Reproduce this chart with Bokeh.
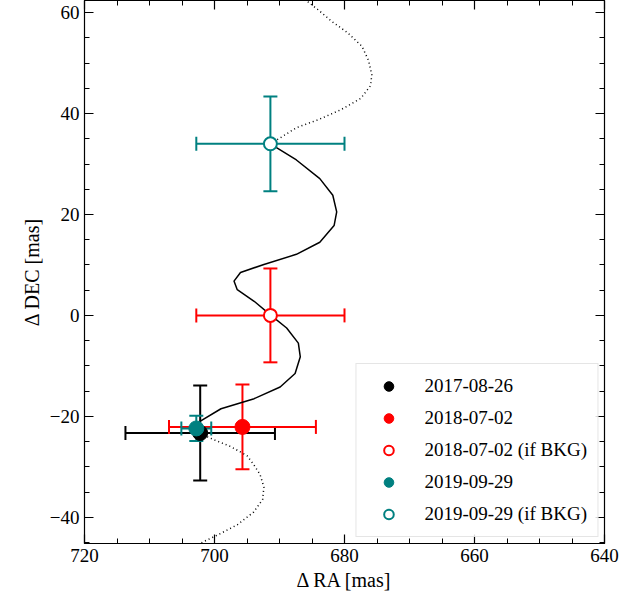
from bokeh.plotting import figure
from bokeh.models import Range1d, LinearAxis, Legend, LegendItem, Whisker, ColumnDataSource, FixedTicker
from bokeh.embed import file_html
from bokeh.resources import INLINE

# predicted track
solid_ra = [702.2, 702.5, 699.0, 693.9, 689.9, 687.6, 686.8, 687.1, 688.9, 691.4, 693.9, 696.5,
            697.0, 696.0, 692.4, 687.4, 683.8, 681.6, 681.2, 681.8, 683.8, 687.4, 690.9, 691.4]
solid_dec = [-23.4, -21.2, -18.5, -16.5, -14.2, -11.5, -8.2, -5.5, -2.5, 0.1, 2.8, 5.1,
             6.8, 8.5, 10.1, 12.1, 14.5, 17.8, 20.5, 23.8, 27.1, 30.8, 33.6, 34.0]
low_ra = [703.0, 701.8, 699.5, 696.5, 694.0, 692.6, 692.4, 693.0, 694.0, 695.0, 697.5, 700.0, 702.2]
low_dec = [-46.0, -44.9, -43.5, -41.5, -39.0, -36.5, -34.0, -31.5, -29.5, -27.8, -26.0, -24.7, -23.4]
high_ra = [691.4, 689.5, 687.4, 684.0, 680.5, 677.5, 676.0, 675.8, 676.3, 677.3, 679.5, 681.9, 684.0, 685.9, 687.0]
high_dec = [34.0, 35.5, 37.2, 38.8, 40.8, 43.0, 45.5, 47.7, 50.5, 53.3, 56.0, 58.2, 60.5, 62.4, 64.0]

labels = ["2017-08-26", "2018-07-02", "2018-07-02 (if BKG)", "2019-09-29", "2019-09-29 (if BKG)"]
ra = [702.2, 695.7, 691.4, 702.8, 691.4]
dec = [-23.3, -22.1, 0.0, -22.4, 34.0]
ra_err = [11.5, 11.3, 11.4, 2.3, 11.4]
dec_err = [9.4, 8.4, 9.3, 2.5, 9.4]
colors = ["black", "red", "red", "teal", "teal"]
filled = [True, True, False, True, False]

SERIF = "Liberation Serif"

p = figure(width=628, height=593, output_backend="svg", toolbar_location=None,
           x_range=Range1d(720, 640), y_range=Range1d(-45.2, 62.4),
           min_border_left=84, min_border_right=24, min_border_top=0, min_border_bottom=40)
p.grid.visible = False
p.outline_line_color = "black"
p.outline_line_width = 1.2

p.line(solid_ra, solid_dec, line_color="black", line_width=1.5)
p.line(low_ra, low_dec, line_color="black", line_width=1.5, line_dash="1 3")
p.line(high_ra, high_dec, line_color="black", line_width=1.5, line_dash="1 3")

items = []
for i in range(len(labels)):
    src = ColumnDataSource(dict(x=[ra[i]], y=[dec[i]],
                                xl=[ra[i] - ra_err[i]], xh=[ra[i] + ra_err[i]],
                                yl=[dec[i] - dec_err[i]], yh=[dec[i] + dec_err[i]]))
    for dim, base, lo, hi in (("width", "y", "xl", "xh"), ("height", "x", "yl", "yh")):
        w = Whisker(source=src, base=base, lower=lo, upper=hi, dimension=dim,
                    line_color=colors[i], line_width=2)
        for head in (w.upper_head, w.lower_head):
            head.line_color = colors[i]
            head.line_width = 2
            head.size = 14
        p.add_layout(w)
    if filled[i]:
        r = p.scatter("x", "y", source=src, size=15, fill_color=colors[i], line_color=colors[i])
    else:
        r = p.scatter("x", "y", source=src, size=13, fill_color="white",
                      line_color=colors[i], line_width=2)
    items.append(LegendItem(label=labels[i], renderers=[r]))

leg = Legend(items=items, location="bottom_right", label_text_font=SERIF,
             label_text_font_size="19px", border_line_color="#cccccc", border_line_width=1,
             background_fill_alpha=0.85, spacing=8, padding=10, margin=6,
             glyph_width=44, glyph_height=24, label_standoff=14, label_text_color="black")
p.add_layout(leg)

p.add_layout(LinearAxis(), "above")
p.add_layout(LinearAxis(), "right")

xt = FixedTicker(ticks=[720, 700, 680, 660, 640], minor_ticks=list(range(640, 721, 5)))
yt = FixedTicker(ticks=[-40, -20, 0, 20, 40, 60], minor_ticks=list(range(-45, 63, 5)))
for ax in p.below + p.above:
    ax.ticker = xt
for ax in p.left + p.right:
    ax.ticker = yt
for ax in p.below + p.above + p.left + p.right:
    ax.axis_line_color = None
    ax.major_tick_in = 9
    ax.major_tick_out = 0
    ax.minor_tick_in = 5
    ax.minor_tick_out = 0
    ax.major_tick_line_width = 1.2
    ax.major_label_standoff = 5
    ax.major_label_text_font = SERIF
    ax.major_label_text_font_size = "19px"
    ax.major_label_text_color = "black"
    ax.axis_label_text_font = SERIF
    ax.axis_label_text_font_size = "20px"
    ax.axis_label_text_font_style = "normal"
    ax.axis_label_text_color = "black"
    ax.axis_label_standoff = 4
p.below[0].axis_label = "Δ RA [mas]"
p.left[0].axis_label = "Δ DEC [mas]"
p.above[0].major_label_text_font_size = "0px"
p.right[0].major_label_text_font_size = "0px"

open("out.html", "w").write(file_html(p, INLINE))
